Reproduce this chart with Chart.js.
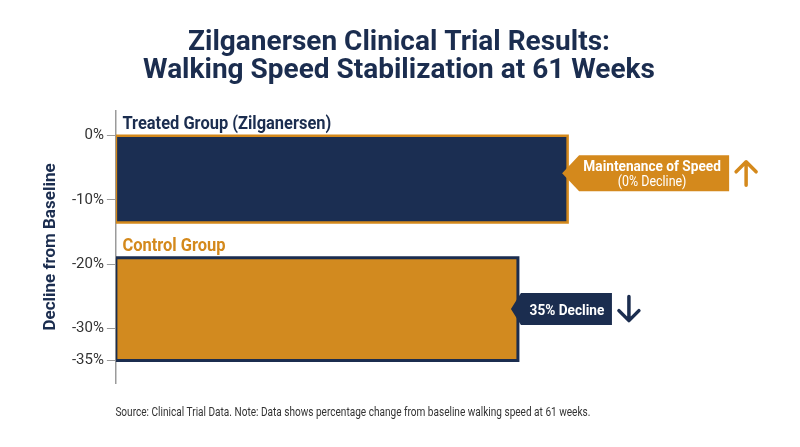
<!DOCTYPE html>
<html>
<head>
<meta charset="utf-8">
<title>Zilganersen Clinical Trial Results</title>
<script src="https://cdn.jsdelivr.net/npm/chart.js@4.4.1/dist/chart.umd.min.js"></script>
<style>
  html, body { margin: 0; padding: 0; background: #ffffff; }
  #wrap { width: 800px; height: 447px; }
</style>
</head>
<body>
<div id="wrap"><canvas id="myChart" width="800" height="447"></canvas></div>
<script>
// chart data
const groups = ['Treated Group (Zilganersen)', 'Control Group'];
const declinePct = [0, 35];
const bandTop = [0, -19];
const bandBottom = [-13.5, -35];
const barLength = [100, 89];
const yTickValues = [0, -10, -20, -30, -35];

const NAVY = '#1b2d4f';
const GOLD = '#d4891c';

function bandPoints(i) {
    return [
        {x: 0, y: bandTop[i]},
        {x: barLength[i], y: bandTop[i]},
        {x: barLength[i], y: bandBottom[i]},
        {x: 0, y: bandBottom[i]},
        {x: 0, y: bandTop[i]}
    ];
}

function drawText(ctx, text, x, y, font, color, align, stretch) {
    ctx.save();
    ctx.font = font;
    ctx.fillStyle = color;
    ctx.textAlign = align;
    ctx.textBaseline = 'alphabetic';
    ctx.translate(x, y);
    ctx.scale(stretch, 1);
    ctx.fillText(text, 0, 0);
    ctx.restore();
}

function drawArrow(ctx, x, yFrom, yTo, color) {
    var dir = yTo < yFrom ? 1 : -1;
    ctx.save();
    ctx.strokeStyle = color;
    ctx.lineWidth = 3.5;
    ctx.lineCap = 'round';
    ctx.lineJoin = 'round';
    ctx.beginPath();
    ctx.moveTo(x, yFrom);
    ctx.lineTo(x, yTo);
    ctx.moveTo(x - 10, yTo + dir * 10);
    ctx.lineTo(x, yTo);
    ctx.lineTo(x + 10, yTo + dir * 10);
    ctx.stroke();
    ctx.restore();
}

// callout tags, group labels and footer
const infoText = {
    id: 'infoText',
    afterDatasetsDraw(chart) {
        const ctx = chart.ctx;
        const xs = chart.scales.x;
        const ys = chart.scales.y;

        // group labels above each band
        const labelColors = [NAVY, GOLD];
        groups.forEach(function (g, i) {
            drawText(ctx, g, xs.left + 6.5, ys.getPixelForValue(bandTop[i]) - 7,
                'bold 17.5px Roboto', labelColors[i], 'left', 0.94);
        });

        // treated callout
        var tx = xs.getPixelForValue(barLength[0]) - 5.5;
        var ty = ys.getPixelForValue((bandTop[0] + bandBottom[0]) / 2) - 5.7;
        ctx.save();
        ctx.fillStyle = GOLD;
        ctx.beginPath();
        ctx.moveTo(tx, ty);
        ctx.lineTo(tx + 17, ty - 18);
        ctx.lineTo(tx + 167, ty - 18);
        ctx.lineTo(tx + 167, ty + 18);
        ctx.lineTo(tx + 17, ty + 18);
        ctx.closePath();
        ctx.fill();
        ctx.restore();
        drawText(ctx, 'Maintenance of Speed', tx + 90, ty - 2.3, 'bold 15px Roboto', '#ffffff', 'center', 0.91);
        drawText(ctx, '(' + declinePct[0] + '% Decline)', tx + 90, ty + 12.7, '14px Roboto', '#ffffff', 'center', 0.89);
        drawArrow(ctx, tx + 184, ty + 12, ty - 11.5, GOLD);

        // control callout
        tx = xs.getPixelForValue(barLength[1]) - 7;
        ty = ys.getPixelForValue((bandTop[1] + bandBottom[1]) / 2);
        ctx.save();
        ctx.fillStyle = NAVY;
        ctx.beginPath();
        ctx.moveTo(tx, ty);
        ctx.lineTo(tx + 10, ty - 16);
        ctx.lineTo(tx + 101, ty - 16);
        ctx.lineTo(tx + 101, ty + 16);
        ctx.lineTo(tx + 10, ty + 16);
        ctx.closePath();
        ctx.fill();
        ctx.restore();
        drawText(ctx, declinePct[1] + '% Decline', tx + 56, ty + 5.7, 'bold 15.5px Roboto', '#ffffff', 'center', 0.88);
        drawArrow(ctx, tx + 118, ty - 12.5, ty + 11.5, NAVY);

        // footer note
        drawText(ctx, 'Source: Clinical Trial Data. Note: Data shows percentage change from baseline walking speed at 61 weeks.',
            xs.left - 0.5, 416.3, '13.5px Roboto', '#333333', 'left', 0.745);
    }
};

const ctx = document.getElementById('myChart').getContext('2d');
const myChart = new Chart(ctx, {
    type: 'scatter',
    data: {
        datasets: [
            {
                label: groups[0],
                data: bandPoints(0),
                showLine: true,
                fill: 'shape',
                backgroundColor: '#1b2e52',
                borderColor: GOLD,
                borderWidth: 2.5,
                borderJoinStyle: 'miter',
                pointRadius: 0,
                tension: 0
            },
            {
                label: groups[1],
                data: bandPoints(1),
                showLine: true,
                fill: 'shape',
                backgroundColor: '#d28a1f',
                borderColor: NAVY,
                borderWidth: 3,
                borderJoinStyle: 'miter',
                pointRadius: 0,
                tension: 0
            }
        ]
    },
    options: {
        responsive: false,
        animation: false,
        layout: { padding: { left: 37.5, right: 39.5, top: 0, bottom: 64 } },
        scales: {
            x: { type: 'linear', display: false, min: 0, max: 142.7 },
            y: {
                type: 'linear',
                min: -38.5,
                max: 3.84,
                afterBuildTicks: function (axis) {
                    axis.ticks = yTickValues.map(function (v) { return {value: v}; });
                },
                ticks: {
                    padding: 3,
                    color: '#333333',
                    font: { family: 'Roboto', size: 15 },
                    callback: function (v) { return v + '%'; }
                },
                grid: { drawOnChartArea: false, drawTicks: true, tickLength: 9, color: '#9b9b9b' },
                border: { display: true, color: '#9b9b9b', width: 1.5 },
                title: {
                    display: true,
                    text: 'Decline from Baseline',
                    color: NAVY,
                    font: { family: 'Roboto', size: 17, weight: 'bold' },
                    padding: { top: 3.5, bottom: 7.5 }
                }
            }
        },
        plugins: {
            legend: { display: false },
            tooltip: { enabled: false },
            title: {
                display: true,
                text: ['Zilganersen Clinical Trial Results:', 'Walking Speed Stabilization at 61 Weeks'],
                color: NAVY,
                font: { family: 'Roboto', size: 28, weight: 'bold', lineHeight: 1.0 },
                padding: { top: 29, bottom: 26 }
            }
        }
    },
    plugins: [infoText]
});
</script>
</body>
</html>
